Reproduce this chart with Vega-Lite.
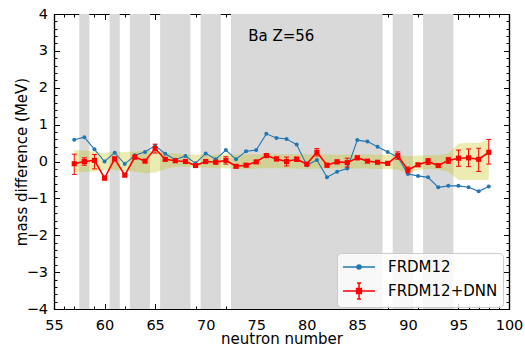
{
  "$schema": "https://vega.github.io/schema/vega-lite/v6.json",
  "width": 455,
  "height": 295,
  "autosize": {"type": "none"},
  "padding": {"left": 54, "top": 14, "right": 16, "bottom": 38},
  "background": "white",
  "config": {
    "view": {"stroke": null},
    "axis": {"domainColor": "black", "tickColor": "black", "labelColor": "black", "titleColor": "black", "labelFont": "DejaVu Sans", "titleFont": "DejaVu Sans", "labelFontSize": 14.5, "titleFontSize": 15, "titleFontWeight": "normal", "grid": false, "domainWidth": 1.2, "tickWidth": 1, "labelFlush": false, "labelOverlap": false},
    "text": {"font": "DejaVu Sans"}
  },
  "datasets": {
    "bands": [
      {"a": 57.5, "b": 58.5}, {"a": 60.5, "b": 61.5}, {"a": 62.5, "b": 64.5}, {"a": 65.5, "b": 68.5},
      {"a": 69.5, "b": 71.5}, {"a": 72.5, "b": 87.5}, {"a": 88.5, "b": 90.5}, {"a": 91.5, "b": 94.5}
    ],
    "main": [
      {"N": 57, "f": 0.59, "d": -0.06, "lo": -0.35, "hi": 0.2, "bl": -0.32, "bh": 0.31},
      {"N": 58, "f": 0.66, "d": 0.0, "lo": -0.1, "hi": 0.1, "bl": -0.28, "bh": 0.29},
      {"N": 59, "f": 0.33, "d": 0.03, "lo": -0.2, "hi": 0.19, "bl": -0.28, "bh": 0.27},
      {"N": 60, "f": 0.0, "d": -0.45, "lo": -0.5, "hi": -0.4, "bl": -0.23, "bh": 0.22},
      {"N": 61, "f": 0.24, "d": 0.07, "lo": 0.02, "hi": 0.12, "bl": -0.23, "bh": 0.27},
      {"N": 62, "f": -0.07, "d": -0.37, "lo": -0.41, "hi": -0.33, "bl": -0.26, "bh": 0.25},
      {"N": 63, "f": 0.17, "d": 0.12, "lo": 0.07, "hi": 0.17, "bl": -0.28, "bh": 0.27},
      {"N": 64, "f": 0.26, "d": 0.01, "lo": -0.03, "hi": 0.05, "bl": -0.32, "bh": 0.29},
      {"N": 65, "f": 0.43, "d": 0.35, "lo": 0.23, "hi": 0.47, "bl": -0.3, "bh": 0.29},
      {"N": 66, "f": 0.21, "d": 0.06, "lo": 0.02, "hi": 0.1, "bl": -0.2, "bh": 0.24},
      {"N": 67, "f": 0.05, "d": 0.02, "lo": -0.02, "hi": 0.06, "bl": -0.15, "bh": 0.22},
      {"N": 68, "f": 0.15, "d": 0.0, "lo": -0.04, "hi": 0.04, "bl": -0.14, "bh": 0.2},
      {"N": 69, "f": -0.05, "d": -0.11, "lo": -0.15, "hi": -0.07, "bl": -0.16, "bh": 0.19},
      {"N": 70, "f": 0.22, "d": 0.0, "lo": -0.04, "hi": 0.04, "bl": -0.17, "bh": 0.19},
      {"N": 71, "f": 0.06, "d": -0.02, "lo": -0.06, "hi": 0.02, "bl": -0.18, "bh": 0.19},
      {"N": 72, "f": 0.31, "d": 0.03, "lo": -0.07, "hi": 0.13, "bl": -0.18, "bh": 0.2},
      {"N": 73, "f": 0.06, "d": -0.13, "lo": -0.17, "hi": -0.09, "bl": -0.2, "bh": 0.19},
      {"N": 74, "f": 0.28, "d": -0.1, "lo": -0.14, "hi": -0.06, "bl": -0.2, "bh": 0.19},
      {"N": 75, "f": 0.31, "d": -0.01, "lo": -0.05, "hi": 0.03, "bl": -0.19, "bh": 0.2},
      {"N": 76, "f": 0.75, "d": 0.16, "lo": 0.11, "hi": 0.21, "bl": -0.18, "bh": 0.2},
      {"N": 77, "f": 0.64, "d": 0.07, "lo": 0.02, "hi": 0.12, "bl": -0.18, "bh": 0.2},
      {"N": 78, "f": 0.61, "d": 0.0, "lo": -0.12, "hi": 0.12, "bl": -0.19, "bh": 0.2},
      {"N": 79, "f": 0.46, "d": 0.06, "lo": 0.0, "hi": 0.12, "bl": -0.19, "bh": 0.2},
      {"N": 80, "f": -0.1, "d": -0.07, "lo": -0.11, "hi": -0.03, "bl": -0.2, "bh": 0.2},
      {"N": 81, "f": 0.04, "d": 0.25, "lo": 0.15, "hi": 0.35, "bl": -0.19, "bh": 0.2},
      {"N": 82, "f": -0.43, "d": -0.1, "lo": -0.15, "hi": -0.05, "bl": -0.19, "bh": 0.19},
      {"N": 83, "f": -0.28, "d": -0.01, "lo": -0.06, "hi": 0.04, "bl": -0.19, "bh": 0.19},
      {"N": 84, "f": -0.19, "d": -0.03, "lo": -0.15, "hi": 0.09, "bl": -0.2, "bh": 0.19},
      {"N": 85, "f": 0.58, "d": 0.1, "lo": 0.05, "hi": 0.15, "bl": -0.19, "bh": 0.19},
      {"N": 86, "f": 0.54, "d": 0.01, "lo": -0.03, "hi": 0.05, "bl": -0.19, "bh": 0.19},
      {"N": 87, "f": 0.4, "d": -0.02, "lo": -0.06, "hi": 0.02, "bl": -0.2, "bh": 0.18},
      {"N": 88, "f": 0.26, "d": -0.05, "lo": -0.09, "hi": -0.01, "bl": -0.2, "bh": 0.18},
      {"N": 89, "f": 0.12, "d": 0.16, "lo": 0.06, "hi": 0.26, "bl": -0.22, "bh": 0.18},
      {"N": 90, "f": -0.34, "d": -0.23, "lo": -0.31, "hi": -0.15, "bl": -0.32, "bh": 0.14},
      {"N": 91, "f": -0.39, "d": -0.09, "lo": -0.13, "hi": -0.05, "bl": -0.24, "bh": 0.16},
      {"N": 92, "f": -0.43, "d": 0.0, "lo": -0.08, "hi": 0.08, "bl": -0.2, "bh": 0.17},
      {"N": 93, "f": -0.7, "d": -0.11, "lo": -0.15, "hi": -0.07, "bl": -0.21, "bh": 0.17},
      {"N": 94, "f": -0.66, "d": 0.03, "lo": -0.05, "hi": 0.11, "bl": -0.28, "bh": 0.22},
      {"N": 95, "f": -0.66, "d": 0.09, "lo": -0.13, "hi": 0.31, "bl": -0.5, "bh": 0.49},
      {"N": 96, "f": -0.7, "d": 0.1, "lo": -0.14, "hi": 0.34, "bl": -0.5, "bh": 0.5},
      {"N": 97, "f": -0.81, "d": 0.06, "lo": -0.27, "hi": 0.36, "bl": -0.5, "bh": 0.51},
      {"N": 98, "f": -0.68, "d": 0.25, "lo": -0.07, "hi": 0.6, "bl": -0.5, "bh": 0.58}
    ],
    "legendrows": [{"series": "FRDM12"}, {"series": "FRDM12+DNN"}],
    "label": [{"N": 74.2, "v": 3.27, "t": "Ba Z=56"}]
  },
  "resolve": {"axis": {"x": "independent", "y": "independent"}},
  "layer": [
    {
      "data": {"name": "bands"},
      "mark": {"type": "rect", "color": "#d9d9d9"},
      "encoding": {
        "x": {"field": "a", "type": "quantitative", "scale": {"domain": [55, 100], "nice": false, "zero": false},
              "axis": {"orient": "bottom", "values": [55, 60, 65, 70, 75, 80, 85, 90, 95, 100], "tickSize": -5.5, "labelPadding": 15, "title": "neutron number", "titleY": 34.5, "titleBaseline": "alphabetic"}},
        "x2": {"field": "b"}
      }
    },
    {
      "data": {"name": "main"},
      "mark": {"type": "area", "color": "#bfbf00", "opacity": 0.3},
      "encoding": {
        "x": {"field": "N", "type": "quantitative",
              "axis": {"orient": "bottom", "values": [55,56,57,58,59,60,61,62,63,64,65,66,67,68,69,70,71,72,73,74,75,76,77,78,79,80,81,82,83,84,85,86,87,88,89,90,91,92,93,94,95,96,97,98,99,100], "tickSize": -3, "labels": false, "title": null}},
        "y": {"field": "bl", "type": "quantitative", "scale": {"domain": [-4, 4], "nice": false, "zero": false},
              "axis": {"orient": "left", "values": [-4, -3, -2, -1, 0, 1, 2, 3, 4], "tickSize": -5.5, "labelPadding": 12, "title": "mass difference (MeV)", "titleX": -27.5, "titleBaseline": "alphabetic"}},
        "y2": {"field": "bh"}
      }
    },
    {
      "mark": {"type": "rule", "color": "#808080", "strokeWidth": 1.5},
      "encoding": {
        "y": {"datum": 0, "type": "quantitative",
              "axis": {"orient": "left", "values": [-4,-3.8,-3.6,-3.4,-3.2,-3,-2.8,-2.6,-2.4,-2.2,-2,-1.8,-1.6,-1.4,-1.2,-1,-0.8,-0.6,-0.4,-0.2,0,0.2,0.4,0.6,0.8,1,1.2,1.4,1.6,1.8,2,2.2,2.4,2.6,2.8,3,3.2,3.4,3.6,3.8,4], "tickSize": -3, "labels": false, "title": null}}
      }
    },
    {
      "data": {"name": "main"},
      "mark": {"type": "line", "color": "#1f77b4", "strokeWidth": 1.1},
      "encoding": {
        "x": {"field": "N", "type": "quantitative",
              "axis": {"orient": "top", "values": [55, 60, 65, 70, 75, 80, 85, 90, 95, 100], "tickSize": -5.5, "labels": false, "title": null}},
        "y": {"field": "f", "type": "quantitative",
              "axis": {"orient": "right", "values": [-4, -3, -2, -1, 0, 1, 2, 3, 4], "tickSize": -5.5, "labels": false, "title": null}}
      }
    },
    {
      "data": {"name": "main"},
      "mark": {"type": "circle", "color": "#1f77b4", "size": 16, "opacity": 1},
      "encoding": {
        "x": {"field": "N", "type": "quantitative",
              "axis": {"orient": "top", "values": [55,56,57,58,59,60,61,62,63,64,65,66,67,68,69,70,71,72,73,74,75,76,77,78,79,80,81,82,83,84,85,86,87,88,89,90,91,92,93,94,95,96,97,98,99,100], "tickSize": -3, "labels": false, "title": null}},
        "y": {"field": "f", "type": "quantitative",
              "axis": {"orient": "right", "values": [-4,-3.8,-3.6,-3.4,-3.2,-3,-2.8,-2.6,-2.4,-2.2,-2,-1.8,-1.6,-1.4,-1.2,-1,-0.8,-0.6,-0.4,-0.2,0,0.2,0.4,0.6,0.8,1,1.2,1.4,1.6,1.8,2,2.2,2.4,2.6,2.8,3,3.2,3.4,3.6,3.8,4], "tickSize": -3, "labels": false, "title": null}}
      }
    },
    {
      "data": {"name": "main"},
      "mark": {"type": "rule", "color": "red", "strokeWidth": 1},
      "encoding": {
        "x": {"field": "N", "type": "quantitative", "axis": null},
        "y": {"field": "lo", "type": "quantitative", "axis": null},
        "y2": {"field": "hi"}
      }
    },
    {
      "data": {"name": "main"},
      "mark": {"type": "tick", "color": "red", "orient": "horizontal", "size": 5, "thickness": 1, "opacity": 1},
      "encoding": {
        "x": {"field": "N", "type": "quantitative", "axis": null},
        "y": {"field": "lo", "type": "quantitative", "axis": null}
      }
    },
    {
      "data": {"name": "main"},
      "mark": {"type": "tick", "color": "red", "orient": "horizontal", "size": 5, "thickness": 1, "opacity": 1},
      "encoding": {
        "x": {"field": "N", "type": "quantitative", "axis": null},
        "y": {"field": "hi", "type": "quantitative", "axis": null}
      }
    },
    {
      "data": {"name": "main"},
      "mark": {"type": "line", "color": "red", "strokeWidth": 1.6},
      "encoding": {
        "x": {"field": "N", "type": "quantitative", "axis": null},
        "y": {"field": "d", "type": "quantitative", "axis": null}
      }
    },
    {
      "data": {"name": "main"},
      "mark": {"type": "square", "color": "red", "size": 26, "opacity": 1},
      "encoding": {
        "x": {"field": "N", "type": "quantitative", "axis": null},
        "y": {"field": "d", "type": "quantitative", "axis": null}
      }
    },
    {
      "data": {"name": "label"},
      "mark": {"type": "text", "align": "left", "baseline": "alphabetic", "fontSize": 15, "color": "black"},
      "encoding": {
        "x": {"field": "N", "type": "quantitative", "axis": null},
        "y": {"field": "v", "type": "quantitative", "axis": null},
        "text": {"field": "t"}
      }
    },
    {
      "data": {"name": "legendrows"},
      "mark": {"type": "point", "filled": true, "opacity": 1, "strokeWidth": 1.5},
      "encoding": {
        "x": {"field": "N", "type": "quantitative", "axis": null},
        "y": {"field": "v", "type": "quantitative", "axis": null},
        "fill": {"field": "series", "type": "nominal", "scale": {"domain": ["FRDM12", "FRDM12+DNN"], "range": ["#1f77b4", "red"]},
                 "legend": {"title": null, "orient": "none", "legendX": 283, "legendY": 239, "direction": "vertical", "symbolSize": 256, "symbolStrokeWidth": 1.5, "labelFont": "DejaVu Sans", "labelFontSize": 15, "labelColor": "black", "labelOffset": 28, "padding": 5, "rowPadding": 5, "strokeColor": "#cccccc", "fillColor": "rgba(255,255,255,0.8)", "cornerRadius": 4}},
        "stroke": {"field": "series", "type": "nominal", "scale": {"domain": ["FRDM12", "FRDM12+DNN"], "range": ["#1f77b4", "red"]},
                 "legend": {"title": null, "orient": "none", "legendX": 283, "legendY": 239, "direction": "vertical", "symbolSize": 256, "symbolStrokeWidth": 1.5, "labelFont": "DejaVu Sans", "labelFontSize": 15, "labelColor": "black", "labelOffset": 28, "padding": 5, "rowPadding": 5, "strokeColor": "#cccccc", "fillColor": "rgba(255,255,255,0.8)", "cornerRadius": 4}},
        "shape": {"field": "series", "type": "nominal", "scale": {"domain": ["FRDM12", "FRDM12+DNN"], "range": ["M-1,0L3,0M0.75,0A0.25,0.25,0,1,1,1.25,0A0.25,0.25,0,1,1,0.75,0Z", "M-1,0L3,0M1,-1L1,1M0.75,-1L1.25,-1M0.75,1L1.25,1M0.7,-0.3L1.3,-0.3L1.3,0.3L0.7,0.3Z"]},
                 "legend": {"title": null, "orient": "none", "legendX": 283, "legendY": 239, "direction": "vertical", "symbolSize": 256, "symbolStrokeWidth": 1.5, "labelFont": "DejaVu Sans", "labelFontSize": 15, "labelColor": "black", "labelOffset": 28, "padding": 5, "rowPadding": 5, "strokeColor": "#cccccc", "fillColor": "rgba(255,255,255,0.8)", "cornerRadius": 4}}
      }
    }
  ]
}
